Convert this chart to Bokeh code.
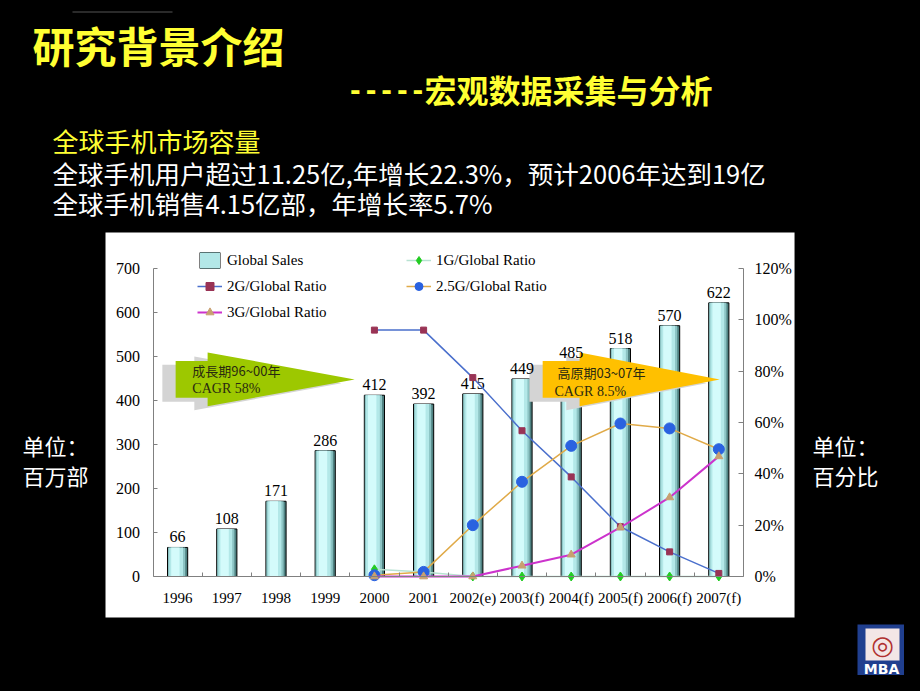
from bokeh.plotting import figure
from bokeh.models import (Range1d, LinearAxis, FixedTicker, Legend, LegendItem,
                          Label, BoxAnnotation, ColumnDataSource)
from bokeh.transform import dodge
from bokeh.embed import file_html
from bokeh.resources import INLINE
from bokeh.core.properties import value

nan = float("nan")

# ---------------- data ----------------
years = ["1996", "1997", "1998", "1999", "2000", "2001", "2002(e)",
         "2003(f)", "2004(f)", "2005(f)", "2006(f)", "2007(f)"]
global_sales = [66, 108, 171, 286, 412, 392, 415, 449, 485, 518, 570, 622]
ratio_1g = [nan, nan, nan, nan, 2.8, 1.8, 0, 0, 0, 0, 0, 0]
ratio_2g = [nan, nan, nan, nan, 96, 96, 77.5, 56.8, 38.8, 19.4, 9.6, 1.2]
ratio_25g = [nan, nan, nan, nan, 0.5, 1.8, 20, 36.9, 50.9, 59.6, 57.7, 49.6]
ratio_3g = [nan, nan, nan, nan, 0, 0, 0, 4.2, 8.5, 19.1, 30.8, 46.8]
left_ticks = [0, 100, 200, 300, 400, 500, 600, 700]
right_ticks = [0, 20, 40, 60, 80, 100, 120]
right_tick_labels = ["0%", "20%", "40%", "60%", "80%", "100%", "120%"]
series_names = ["Global Sales", "1G/Global Ratio", "2G/Global Ratio",
                "2.5G/Global Ratio", "3G/Global Ratio"]
growth_label = ["成長期96~00年", "CAGR 58%"]
plateau_label = ["高原期03~07年", "CAGR 8.5%"]

SERIF = "Liberation Serif"
CJK = "Noto Sans CJK SC"

n = len(years)
xs = list(range(n))

W, H = 904, 675
p = figure(width=W, height=H, output_backend="svg", toolbar_location=None,
           x_range=Range1d(-3.5996, 14.774), y_range=Range1d(-225.0, 1309.09),
           min_border=0, background_fill_color="black",
           border_fill_color="black", outline_line_color=None)
p.grid.visible = False
p.extra_y_ranges = {"pct": Range1d(-38.57, 224.42)}

# white chart panel (style constants in data units)
p.quad(left=[-1.4654], right=[12.539], bottom=[-93.2], top=[781.8],
       fill_color="white", line_color=None)

# ---------------- axes ----------------
AX = "#808080"
xa = p.xaxis[0]
xa.fixed_location = 0
xa.bounds = (-0.5, n - 0.5)
xa.ticker = FixedTicker(ticks=xs, minor_ticks=[i + 0.5 for i in range(n - 1)])
xa.major_label_overrides = {i: y for i, y in enumerate(years)}
xa.major_tick_line_color = None
xa.major_tick_in = 0
xa.major_tick_out = 0
xa.minor_tick_in = 4
xa.minor_tick_out = 0
xa.minor_tick_line_color = AX
xa.axis_line_color = AX
xa.major_label_text_font = SERIF
xa.major_label_text_font_size = "15px"
xa.major_label_text_color = "black"
xa.major_label_standoff = 14

ya = p.yaxis[0]
ya.fixed_location = -0.5
ya.bounds = (0, 700)
ya.ticker = FixedTicker(ticks=left_ticks)
ya.minor_tick_line_color = None
ya.major_tick_in = 4
ya.major_tick_out = 0
ya.major_tick_line_color = AX
ya.axis_line_color = AX
ya.major_label_text_font = SERIF
ya.major_label_text_font_size = "16px"
ya.major_label_text_color = "black"
ya.major_label_standoff = 13

ra = LinearAxis(y_range_name="pct", fixed_location=n - 0.5, bounds=(0, 120),
                ticker=FixedTicker(ticks=right_ticks),
                major_label_overrides=dict(zip(right_ticks, right_tick_labels)))
ra.minor_tick_line_color = None
ra.major_tick_in = 5
ra.major_tick_out = 0
ra.major_tick_line_color = AX
ra.axis_line_color = AX
ra.major_label_text_font = SERIF
ra.major_label_text_font_size = "16px"
ra.major_label_text_color = "black"
ra.major_label_standoff = 11
p.add_layout(ra, "right")

# ---------------- bars ----------------
src = ColumnDataSource(dict(x=xs, sales=global_sales,
                            label=[str(v) for v in global_sales]))
bar_layers = [(0.41, 0.0, "#4f8282", "black"), (0.35, -0.02, "#8cc4c4", None),
              (0.28, -0.03, "#b3e8e8", None), (0.17, -0.045, "#d4fbfb", None)]
bar_rs = []
for w, off, c, lc in bar_layers:
    r = p.vbar(x=dodge("x", off, range=p.x_range), top="sales", bottom=0, width=w,
               source=src, fill_color=c, line_color=lc, line_width=1)
    bar_rs.append(r)

# ---------------- arrows ----------------
def arrow(x0, xh, x1, yc, body, head, dx=0.0, dy=0.0):
    xsv = [x0, xh, xh, x1, xh, xh, x0]
    ysv = [yc + body, yc + body, yc + head, yc, yc - head, yc - body, yc - body]
    return [v + dx for v in xsv], [v + dy for v in ysv]

for (x0, xh, x1, col) in [(-0.04, 0.61, 3.6, "#9dc800"), (7.42, 8.17, 11.02, "#ffc000")]:
    sx, sy = arrow(x0, xh, x1, 448, 42, 61, dx=-0.27, dy=-9)
    p.patch(sx, sy, fill_color="#d4d4d4", line_color=None)
    ax_, ay_ = arrow(x0, xh, x1, 448, 42, 61)
    p.patch(ax_, ay_, fill_color=col, line_color=None)

p.text(x=[0.3], y=[468], text=[growth_label[0]], text_font=value("Noto Sans CJK TC"),
       text_font_size="13px", text_color="#2a2a10", text_baseline="middle")
p.text(x=[0.3], y=[428], text=[growth_label[1]], text_font=value(SERIF),
       text_font_size="14px", text_color="#2a2a10", text_baseline="middle")
p.text(x=[7.72], y=[464], text=[plateau_label[0]], text_font=value("Noto Sans CJK TC"),
       text_font_size="13px", text_color="#2a2a10", text_baseline="middle")
p.text(x=[7.66], y=[420], text=[plateau_label[1]], text_font=value(SERIF),
       text_font_size="14px", text_color="#2a2a10", text_baseline="middle")

# bar value labels
p.text(x="x", y="sales", text="label", source=src, text_align="center",
       text_baseline="bottom", y_offset=-5, text_font=value(SERIF),
       text_font_size="16px", text_color="black")

# ---------------- ratio lines ----------------
l1 = p.line(xs, ratio_1g, y_range_name="pct", line_color="#b8e2d2", line_width=1.5)
s1 = p.scatter(xs, ratio_1g, y_range_name="pct", marker="diamond", size=9,
               fill_color="#22cc22", line_color="#22cc22")
l2 = p.line(xs, ratio_2g, y_range_name="pct", line_color="#4a6fcc", line_width=1.5)
s2 = p.scatter(xs, ratio_2g, y_range_name="pct", marker="square", size=6,
               fill_color="#993355", line_color="#993355")
l25 = p.line(xs, ratio_25g, y_range_name="pct", line_color="#e0aa48", line_width=1.5)
s25 = p.scatter(xs, ratio_25g, y_range_name="pct", marker="circle", size=11,
                fill_color="#2a62e0", line_color="#2a62e0")
l3 = p.line(xs, ratio_3g, y_range_name="pct", line_color="#cc33cc", line_width=2)
s3 = p.scatter(xs, ratio_3g, y_range_name="pct", marker="triangle", size=8,
               fill_color="#c8a070", line_color="#c8a070")

# ---------------- legends ----------------
leg_style = dict(background_fill_alpha=0, border_line_color=None, padding=0, margin=0,
                 spacing=6, glyph_height=20, glyph_width=25, label_height=20,
                 label_standoff=5, label_text_font=SERIF, label_text_font_size="15px",
                 label_text_color="black")
leg1 = Legend(items=[LegendItem(label=series_names[0], renderers=[bar_rs[0], bar_rs[2]]),
                     LegendItem(label=series_names[2], renderers=[l2, s2]),
                     LegendItem(label=series_names[4], renderers=[l3, s3])],
              location=(197, 353), **leg_style)
leg2 = Legend(items=[LegendItem(label=series_names[1], renderers=[l1, s1]),
                     LegendItem(label=series_names[3], renderers=[l25, s25])],
              location=(406, 379), **leg_style)
p.add_layout(leg1)
p.add_layout(leg2)

# ---------------- slide texts (outside the chart) ----------------
YEL = "#ffff33"
def lab(cx, cy, text, size, color, font=CJK, style="normal", align="left"):
    # cx, cy: pixel position from top-left of the canvas
    p.add_layout(Label(x=cx, y=H - cy, x_units="screen", y_units="screen", text=text,
                       text_font=font, text_font_size=size, text_font_style=style,
                       text_color=color, text_baseline="middle", text_align=align))

def box(l, r, t, b, color):
    p.add_layout(BoxAnnotation(left=l, right=r, top=H - t, bottom=H - b,
                               left_units="screen", right_units="screen",
                               top_units="screen", bottom_units="screen",
                               fill_color=color, fill_alpha=1, line_color=None))

lab(32, 44, "研究背景介绍", "42px", YEL, style="bold")
lab(347, 89, "-----", "26px", YEL, font="DejaVu Sans Mono", style="bold")
lab(424, 88, "宏观数据采集与分析", "32px", YEL, style="bold")
lab(52, 140, "全球手机市场容量", "26px", YEL)
lab(52, 172, "全球手机用户超过11.25亿,年增长22.3%，预计2006年达到19亿", "25.5px", "white")
lab(52, 202, "全球手机销售4.15亿部，年增长率5.7%", "25.5px", "white")
lab(22, 444, "单位：", "22px", "white")
lab(22, 474, "百万部", "22px", "white")
lab(812, 444, "单位：", "22px", "white")
lab(812, 474, "百分比", "22px", "white")

# faint rule at top
box(72, 172, 11, 12, "#555555")
# MBA logo
box(857, 904, 624, 675, "#203f8f")
box(865, 899, 628, 660, "#f3e6e6")
lab(882, 644, "◎", "26px", "#b03030", font="DejaVu Sans", align="center")
lab(881, 668, "MBA", "14px", "white", font="DejaVu Sans", style="bold", align="center")

html = file_html(p, INLINE)
html = html.replace("<head>", "<head><style>html, body {background-color: #000000;}</style>", 1)
open("out.html", "w").write(html)
